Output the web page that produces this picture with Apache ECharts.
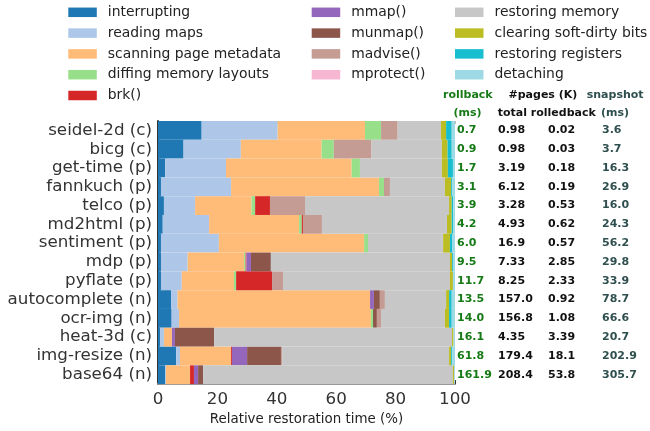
<!DOCTYPE html>
<html>
<head>
<meta charset="utf-8">
<script src="https://cdn.jsdelivr.net/npm/echarts@6/dist/echarts.min.js"></script>
<style>
  html, body { margin: 0; padding: 0; background: #fff; }
  #chart { width: 650px; height: 431px; }
</style>
</head>
<body>
<div id="chart"></div>
<script>
// Benchmarks (top to bottom)
const benchmarks = ['seidel-2d (c)', 'bicg (c)', 'get-time (p)', 'fannkuch (p)', 'telco (p)', 'md2html (p)',
  'sentiment (p)', 'mdp (p)', 'pyflate (p)', 'autocomplete (n)', 'ocr-img (n)', 'heat-3d (c)',
  'img-resize (n)', 'base64 (n)'];

// Share of restoration time per phase (%)
const interrupting      = [14.7, 8.6, 2.4, 1.0, 2.0, 1.6, 1.0, 1.0, 1.0, 4.4, 4.6, 0.7, 6.1, 2.4];
const readingMaps       = [25.6, 19.3, 20.5, 23.6, 10.5, 15.6, 19.5, 9.0, 7.0, 2.2, 2.5, 1.3, 1.3, 0.3];
const scanningMetadata  = [29.4, 27.2, 42.3, 49.8, 19.0, 30.3, 48.9, 19.0, 17.6, 64.8, 64.6, 2.7, 17.2, 8.1];
const diffingLayouts    = [5.4, 4.1, 2.8, 1.7, 1.2, 0.9, 1.3, 0.5, 0.7, 0, 0.7, 0, 0, 0];
const brkCall           = [0, 0, 0, 0, 5.0, 0.4, 0, 0.3, 12.1, 0, 0, 0, 0.3, 1.3];
const mmapCall          = [0, 0, 0, 0, 0, 0, 0, 1.5, 0, 1.3, 0, 1.0, 5.1, 1.4];
const munmapCall        = [0, 0, 0, 0, 0, 0, 0, 6.7, 0, 2.0, 1.3, 13.2, 11.4, 1.7];
const madviseCall       = [5.6, 12.7, 0, 2.0, 11.8, 6.4, 0, 0, 3.7, 1.7, 1.4, 0, 0.4, 0];
const mprotectCall      = [0, 0, 0, 0, 0, 0, 0, 0, 0, 0, 0, 0, 0, 0];
const restoringMemory   = [14.6, 23.7, 27.6, 18.5, 48.5, 42.1, 25.3, 60.3, 56.2, 20.6, 21.5, 80.1, 56.2, 84.1];
const clearingSoftDirty = [1.7, 1.9, 2.0, 2.1, 0.9, 1.6, 2.3, 0.7, 1.0, 1.0, 1.4, 0.5, 0.7, 0.4];
const restoringRegs     = [1.9, 1.4, 1.7, 0.4, 0.5, 0.5, 0.7, 0.3, 0, 0.9, 0.9, 0, 0.4, 0];
const detaching         = [1.1, 1.1, 0.7, 0.9, 0.6, 0.6, 1.0, 0.7, 0.7, 1.1, 1.1, 0.5, 0.9, 0.3];

// Side table columns
const rollbackMs   = ['0.7', '0.9', '1.7', '3.1', '3.9', '4.2', '6.0', '9.5', '11.7', '13.5', '14.0', '16.1', '61.8', '161.9'];
const pagesTotal   = ['0.98', '0.98', '3.19', '6.12', '3.28', '4.93', '16.9', '7.33', '8.25', '157.0', '156.8', '4.35', '179.4', '208.4'];
const pagesRolled  = ['0.02', '0.03', '0.18', '0.19', '0.53', '0.62', '0.57', '2.85', '2.33', '0.92', '1.08', '3.39', '18.1', '53.8'];
const snapshotMs   = ['3.6', '3.7', '16.3', '26.9', '16.0', '24.3', '56.2', '29.8', '33.9', '78.7', '66.6', '20.7', '202.9', '305.7'];

const xTicks = [0, 20, 40, 60, 80, 100];

const phases = [
  ['interrupting', interrupting, '#1f77b4'],
  ['reading maps', readingMaps, '#aec7e8'],
  ['scanning page metadata', scanningMetadata, '#ffbb78'],
  ['diffing memory layouts', diffingLayouts, '#98df8a'],
  ['brk()', brkCall, '#d62728'],
  ['mmap()', mmapCall, '#9467bd'],
  ['munmap()', munmapCall, '#8c564b'],
  ['madvise()', madviseCall, '#c49c94'],
  ['mprotect()', mprotectCall, '#f7b6d2'],
  ['restoring memory', restoringMemory, '#c7c7c7'],
  ['clearing soft-dirty bits', clearingSoftDirty, '#bcbd22'],
  ['restoring registers', restoringRegs, '#17becf'],
  ['detaching', detaching, '#9edae5']
];

const FONT = 'DejaVu Sans';
const GREEN = '#167a16';
const SLATE = '#2f4f4f';

const series = phases.map(([name, data, color]) => ({
  name, type: 'bar', stack: 'total', data,
  xAxisIndex: 0, yAxisIndex: 0,
  barWidth: '100%', barCategoryGap: '0%',
  itemStyle: { color },
  emphasis: { disabled: true },
  silent: true
}));

function legendCol(left, names) {
  return {
    orient: 'vertical', left, top: 5.3, padding: 0,
    data: names, icon: 'rect',
    itemWidth: 28.5, itemHeight: 9.5, itemGap: 6.8,
    textStyle: { fontFamily: FONT, fontSize: 13.9, color: '#222', lineHeight: 14, padding: [0, 0, 0, 6] },
    selectedMode: false
  };
}

function tableAxis(data, margin, color) {
  return {
    type: 'category', data, inverse: true, position: 'right',
    axisLine: { show: false }, axisTick: { show: false },
    axisLabel: { interval: 0, margin, align: 'left', fontFamily: FONT, fontSize: 11, fontWeight: 'bold', color }
  };
}

// Column headers, placed by their vertical centre
const header = (x, yMid, text, fill) => ({
  type: 'text', left: x, top: yMid - 6.5,
  style: { text, fill, font: 'bold 11px "DejaVu Sans"' }
});

const chart = echarts.init(document.getElementById('chart'), null, { renderer: 'canvas' });
chart.setOption({
  animation: false,
  backgroundColor: '#fff',
  grid: { left: 158, right: 195, top: 121, bottom: 42.5, containLabel: false },
  legend: [
    legendCol(68.3, phases.slice(0, 5).map(p => p[0])),
    legendCol(311.7, phases.slice(5, 9).map(p => p[0])),
    legendCol(455, phases.slice(9).map(p => p[0]))
  ],
  xAxis: [
    {
      type: 'value', min: xTicks[0], max: xTicks[xTicks.length - 1], interval: 20,
      position: 'bottom',
      name: 'Relative restoration time (%)', nameLocation: 'middle', nameGap: 25,
      nameTextStyle: { fontFamily: FONT, fontSize: 13.4, color: '#222' },
      axisLine: { show: true, lineStyle: { color: '#999', width: 2 } },
      axisTick: { show: true, inside: true, length: 4, lineStyle: { color: '#333', width: 1 } },
      axisLabel: { margin: 7, fontFamily: FONT, fontSize: 16.7, color: '#333' },
      splitLine: { show: false }
    },
    {
      type: 'value', min: xTicks[0], max: xTicks[xTicks.length - 1], interval: 20,
      position: 'top',
      axisLine: { show: false },
      axisTick: { show: true, inside: true, length: 3, lineStyle: { color: '#bbb', width: 1 } },
      axisLabel: { show: false },
      splitLine: { show: false }
    }
  ],
  yAxis: [
    {
      type: 'category', data: benchmarks, inverse: true, position: 'left',
      axisLine: { show: true, lineStyle: { color: '#333', width: 2 } },
      axisTick: { show: false },
      axisLabel: { interval: 0, margin: 6, fontFamily: FONT, fontSize: 16.7, color: '#333' }
    },
    tableAxis(rollbackMs, 2, GREEN),
    tableAxis(pagesTotal, 43, '#111'),
    tableAxis(pagesRolled, 93, '#111'),
    tableAxis(snapshotMs, 147, SLATE)
  ],
  series,
  graphic: [
    header(443, 95.7, 'rollback', GREEN),
    header(453.5, 114.3, '(ms)', GREEN),
    header(508.5, 95.7, '#pages (K)', '#111'),
    header(497.7, 114.3, 'total rolledback', '#111'),
    header(586.7, 95.7, 'snapshot', SLATE),
    header(601, 114.3, '(ms)', SLATE)
  ]
});
</script>
</body>
</html>
